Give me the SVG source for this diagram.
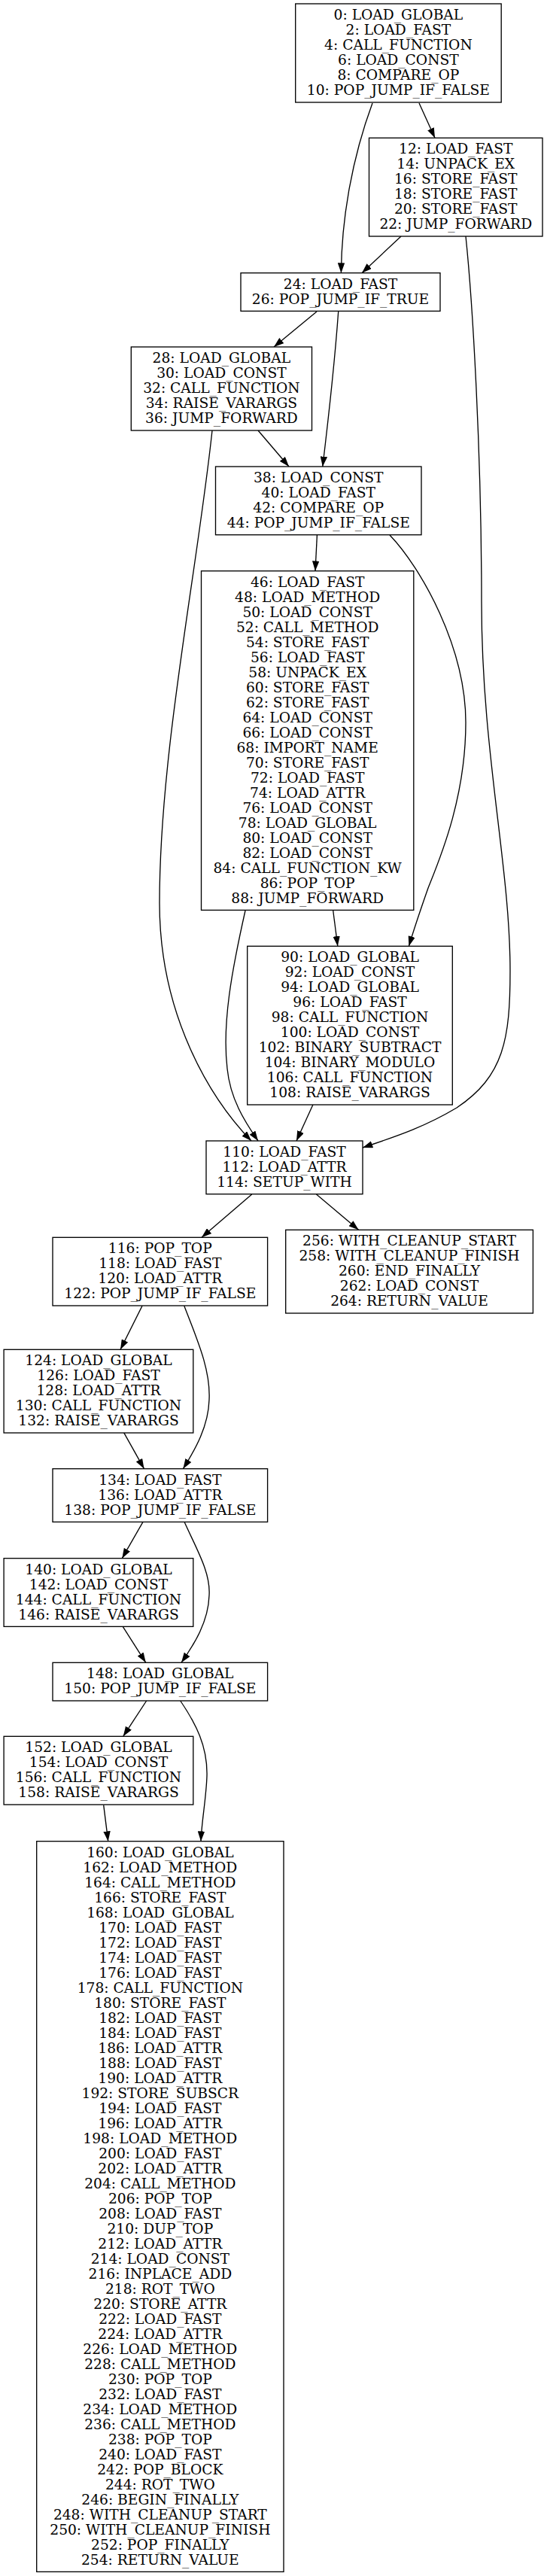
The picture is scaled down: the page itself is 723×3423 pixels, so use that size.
<svg xmlns="http://www.w3.org/2000/svg" width="723" height="3423" viewBox="0 0 723 3423">
<style>
.n rect{fill:#fff;stroke:#000;stroke-width:1.33}
.n text{font-family:"DejaVu Serif",serif;font-size:18.67px;text-anchor:middle;fill:#000}
.e path{fill:none;stroke:#000;stroke-width:1.33;marker-end:url(#ah)}
</style>
<defs>
<marker id="ah" markerUnits="userSpaceOnUse" viewBox="0 0 13.3 9.4" markerWidth="13.3" markerHeight="9.4" refX="13.3" refY="4.7" orient="auto">
<path d="M0,0 L13.3,4.7 L0,9.4 z" fill="#000"/>
</marker>
</defs>
<rect width="723" height="3423" fill="#fff"/>
<g id="edges" class="e">
<path d="M495,137 C468,210 454,290 453.4,362.7"/>
<path d="M557,137 L578,183.3"/>
<path d="M533,314 L481,362.7"/>
<path d="M619,314 C628,400 640,600 640,800 C640,1000 678,1150 678,1290 C678,1380 670,1430 607,1472 C560,1500 520,1512 482,1525"/>
<path d="M421,414 L364,461"/>
<path d="M449.7,414 C445,480 436,560 428.8,620"/>
<path d="M282,572 C262,760 212,1000 212,1200 C212,1350 280,1460 334,1516"/>
<path d="M343,572 L384,620"/>
<path d="M421.4,711 L419,758.7"/>
<path d="M518,711 C560,755 619,860 619,960 C619,1060 585,1140 569,1180 C562,1200 550,1235 543.4,1257.3"/>
<path d="M442.7,1210 L448.8,1257.3"/>
<path d="M326,1210 C308,1290 295,1360 302,1420 C306,1460 325,1490 343,1516"/>
<path d="M415.9,1468 L394,1516"/>
<path d="M334.7,1587 L268,1644.3"/>
<path d="M420.5,1587 L476.6,1634.3"/>
<path d="M189,1735.3 L160,1793.3"/>
<path d="M244.8,1735.3 C262,1780 280,1820 278,1860 C277,1895 260,1925 243.4,1951.7"/>
<path d="M164.6,1903.7 L191.5,1951.7"/>
<path d="M190,2022.3 L162.3,2070.7"/>
<path d="M245,2022.3 C262,2060 280,2090 278,2120 C277,2155 258,2185 241,2209.3"/>
<path d="M163.2,2161.3 L193.8,2209.3"/>
<path d="M194.7,2260 L163.7,2307.3"/>
<path d="M239.7,2260 C260,2290 276,2320 275,2360 C274,2390 268,2420 267,2446.7"/>
<path d="M137.7,2398.7 L143.7,2446.7"/>
</g>
<g id="n0" class="n"><rect x="392.7" y="5" width="273.5" height="131"/>
<text x="529.4" y="26"><tspan x="529.4">0: LOAD_GLOBAL</tspan><tspan x="529.4" dy="20">2: LOAD_FAST</tspan><tspan x="529.4" dy="20">4: CALL_FUNCTION</tspan><tspan x="529.4" dy="20">6: LOAD_CONST</tspan><tspan x="529.4" dy="20">8: COMPARE_OP</tspan><tspan x="529.4" dy="20">10: POP_JUMP_IF_FALSE</tspan></text></g>
<g id="n12" class="n"><rect x="490.5" y="183.3" width="230.5" height="130.7"/>
<text x="605.75" y="204.3"><tspan x="605.75">12: LOAD_FAST</tspan><tspan x="605.75" dy="20">14: UNPACK_EX</tspan><tspan x="605.75" dy="20">16: STORE_FAST</tspan><tspan x="605.75" dy="20">18: STORE_FAST</tspan><tspan x="605.75" dy="20">20: STORE_FAST</tspan><tspan x="605.75" dy="20">22: JUMP_FORWARD</tspan></text></g>
<g id="n24" class="n"><rect x="320" y="362.7" width="265" height="50.7"/>
<text x="452.5" y="383.7"><tspan x="452.5">24: LOAD_FAST</tspan><tspan x="452.5" dy="20">26: POP_JUMP_IF_TRUE</tspan></text></g>
<g id="n28" class="n"><rect x="174.3" y="461" width="240.2" height="111"/>
<text x="294.4" y="482"><tspan x="294.4">28: LOAD_GLOBAL</tspan><tspan x="294.4" dy="20">30: LOAD_CONST</tspan><tspan x="294.4" dy="20">32: CALL_FUNCTION</tspan><tspan x="294.4" dy="20">34: RAISE_VARARGS</tspan><tspan x="294.4" dy="20">36: JUMP_FORWARD</tspan></text></g>
<g id="n38" class="n"><rect x="286.5" y="620" width="273.5" height="90.7"/>
<text x="423.25" y="641"><tspan x="423.25">38: LOAD_CONST</tspan><tspan x="423.25" dy="20">40: LOAD_FAST</tspan><tspan x="423.25" dy="20">42: COMPARE_OP</tspan><tspan x="423.25" dy="20">44: POP_JUMP_IF_FALSE</tspan></text></g>
<g id="n46" class="n"><rect x="267.5" y="758.7" width="282.3" height="450.7"/>
<text x="408.65" y="779.7"><tspan x="408.65">46: LOAD_FAST</tspan><tspan x="408.65" dy="20">48: LOAD_METHOD</tspan><tspan x="408.65" dy="20">50: LOAD_CONST</tspan><tspan x="408.65" dy="20">52: CALL_METHOD</tspan><tspan x="408.65" dy="20">54: STORE_FAST</tspan><tspan x="408.65" dy="20">56: LOAD_FAST</tspan><tspan x="408.65" dy="20">58: UNPACK_EX</tspan><tspan x="408.65" dy="20">60: STORE_FAST</tspan><tspan x="408.65" dy="20">62: STORE_FAST</tspan><tspan x="408.65" dy="20">64: LOAD_CONST</tspan><tspan x="408.65" dy="20">66: LOAD_CONST</tspan><tspan x="408.65" dy="20">68: IMPORT_NAME</tspan><tspan x="408.65" dy="20">70: STORE_FAST</tspan><tspan x="408.65" dy="20">72: LOAD_FAST</tspan><tspan x="408.65" dy="20">74: LOAD_ATTR</tspan><tspan x="408.65" dy="20">76: LOAD_CONST</tspan><tspan x="408.65" dy="20">78: LOAD_GLOBAL</tspan><tspan x="408.65" dy="20">80: LOAD_CONST</tspan><tspan x="408.65" dy="20">82: LOAD_CONST</tspan><tspan x="408.65" dy="20">84: CALL_FUNCTION_KW</tspan><tspan x="408.65" dy="20">86: POP_TOP</tspan><tspan x="408.65" dy="20">88: JUMP_FORWARD</tspan></text></g>
<g id="n90" class="n"><rect x="328.7" y="1257.3" width="272.6" height="210.7"/>
<text x="465" y="1278.3"><tspan x="465">90: LOAD_GLOBAL</tspan><tspan x="465" dy="20">92: LOAD_CONST</tspan><tspan x="465" dy="20">94: LOAD_GLOBAL</tspan><tspan x="465" dy="20">96: LOAD_FAST</tspan><tspan x="465" dy="20">98: CALL_FUNCTION</tspan><tspan x="465" dy="20">100: LOAD_CONST</tspan><tspan x="465" dy="20">102: BINARY_SUBTRACT</tspan><tspan x="465" dy="20">104: BINARY_MODULO</tspan><tspan x="465" dy="20">106: CALL_FUNCTION</tspan><tspan x="465" dy="20">108: RAISE_VARARGS</tspan></text></g>
<g id="n110" class="n"><rect x="274" y="1516" width="208" height="70.7"/>
<text x="378" y="1537"><tspan x="378">110: LOAD_FAST</tspan><tspan x="378" dy="20">112: LOAD_ATTR</tspan><tspan x="378" dy="20">114: SETUP_WITH</tspan></text></g>
<g id="n116" class="n"><rect x="70" y="1644.3" width="285.6" height="90.7"/>
<text x="212.8" y="1665.3"><tspan x="212.8">116: POP_TOP</tspan><tspan x="212.8" dy="20">118: LOAD_FAST</tspan><tspan x="212.8" dy="20">120: LOAD_ATTR</tspan><tspan x="212.8" dy="20">122: POP_JUMP_IF_FALSE</tspan></text></g>
<g id="n256" class="n"><rect x="379.7" y="1634.3" width="328.7" height="110.7"/>
<text x="544" y="1655.3"><tspan x="544">256: WITH_CLEANUP_START</tspan><tspan x="544" dy="20">258: WITH_CLEANUP_FINISH</tspan><tspan x="544" dy="20">260: END_FINALLY</tspan><tspan x="544" dy="20">262: LOAD_CONST</tspan><tspan x="544" dy="20">264: RETURN_VALUE</tspan></text></g>
<g id="n124" class="n"><rect x="5.1" y="1793.3" width="251.7" height="110.7"/>
<text x="131" y="1814.3"><tspan x="131">124: LOAD_GLOBAL</tspan><tspan x="131" dy="20">126: LOAD_FAST</tspan><tspan x="131" dy="20">128: LOAD_ATTR</tspan><tspan x="131" dy="20">130: CALL_FUNCTION</tspan><tspan x="131" dy="20">132: RAISE_VARARGS</tspan></text></g>
<g id="n134" class="n"><rect x="70" y="1951.7" width="285.6" height="70.7"/>
<text x="212.8" y="1972.7"><tspan x="212.8">134: LOAD_FAST</tspan><tspan x="212.8" dy="20">136: LOAD_ATTR</tspan><tspan x="212.8" dy="20">138: POP_JUMP_IF_FALSE</tspan></text></g>
<g id="n140" class="n"><rect x="5.1" y="2070.7" width="251.7" height="90.7"/>
<text x="131" y="2091.7"><tspan x="131">140: LOAD_GLOBAL</tspan><tspan x="131" dy="20">142: LOAD_CONST</tspan><tspan x="131" dy="20">144: CALL_FUNCTION</tspan><tspan x="131" dy="20">146: RAISE_VARARGS</tspan></text></g>
<g id="n148" class="n"><rect x="70" y="2209.3" width="285.6" height="50.7"/>
<text x="212.8" y="2230.3"><tspan x="212.8">148: LOAD_GLOBAL</tspan><tspan x="212.8" dy="20">150: POP_JUMP_IF_FALSE</tspan></text></g>
<g id="n152" class="n"><rect x="5.1" y="2307.3" width="251.7" height="90.7"/>
<text x="131" y="2328.3"><tspan x="131">152: LOAD_GLOBAL</tspan><tspan x="131" dy="20">154: LOAD_CONST</tspan><tspan x="131" dy="20">156: CALL_FUNCTION</tspan><tspan x="131" dy="20">158: RAISE_VARARGS</tspan></text></g>
<g id="n160" class="n"><rect x="48.7" y="2446.7" width="328.3" height="970.7"/>
<text x="212.85" y="2467.7"><tspan x="212.85">160: LOAD_GLOBAL</tspan><tspan x="212.85" dy="20">162: LOAD_METHOD</tspan><tspan x="212.85" dy="20">164: CALL_METHOD</tspan><tspan x="212.85" dy="20">166: STORE_FAST</tspan><tspan x="212.85" dy="20">168: LOAD_GLOBAL</tspan><tspan x="212.85" dy="20">170: LOAD_FAST</tspan><tspan x="212.85" dy="20">172: LOAD_FAST</tspan><tspan x="212.85" dy="20">174: LOAD_FAST</tspan><tspan x="212.85" dy="20">176: LOAD_FAST</tspan><tspan x="212.85" dy="20">178: CALL_FUNCTION</tspan><tspan x="212.85" dy="20">180: STORE_FAST</tspan><tspan x="212.85" dy="20">182: LOAD_FAST</tspan><tspan x="212.85" dy="20">184: LOAD_FAST</tspan><tspan x="212.85" dy="20">186: LOAD_ATTR</tspan><tspan x="212.85" dy="20">188: LOAD_FAST</tspan><tspan x="212.85" dy="20">190: LOAD_ATTR</tspan><tspan x="212.85" dy="20">192: STORE_SUBSCR</tspan><tspan x="212.85" dy="20">194: LOAD_FAST</tspan><tspan x="212.85" dy="20">196: LOAD_ATTR</tspan><tspan x="212.85" dy="20">198: LOAD_METHOD</tspan><tspan x="212.85" dy="20">200: LOAD_FAST</tspan><tspan x="212.85" dy="20">202: LOAD_ATTR</tspan><tspan x="212.85" dy="20">204: CALL_METHOD</tspan><tspan x="212.85" dy="20">206: POP_TOP</tspan><tspan x="212.85" dy="20">208: LOAD_FAST</tspan><tspan x="212.85" dy="20">210: DUP_TOP</tspan><tspan x="212.85" dy="20">212: LOAD_ATTR</tspan><tspan x="212.85" dy="20">214: LOAD_CONST</tspan><tspan x="212.85" dy="20">216: INPLACE_ADD</tspan><tspan x="212.85" dy="20">218: ROT_TWO</tspan><tspan x="212.85" dy="20">220: STORE_ATTR</tspan><tspan x="212.85" dy="20">222: LOAD_FAST</tspan><tspan x="212.85" dy="20">224: LOAD_ATTR</tspan><tspan x="212.85" dy="20">226: LOAD_METHOD</tspan><tspan x="212.85" dy="20">228: CALL_METHOD</tspan><tspan x="212.85" dy="20">230: POP_TOP</tspan><tspan x="212.85" dy="20">232: LOAD_FAST</tspan><tspan x="212.85" dy="20">234: LOAD_METHOD</tspan><tspan x="212.85" dy="20">236: CALL_METHOD</tspan><tspan x="212.85" dy="20">238: POP_TOP</tspan><tspan x="212.85" dy="20">240: LOAD_FAST</tspan><tspan x="212.85" dy="20">242: POP_BLOCK</tspan><tspan x="212.85" dy="20">244: ROT_TWO</tspan><tspan x="212.85" dy="20">246: BEGIN_FINALLY</tspan><tspan x="212.85" dy="20">248: WITH_CLEANUP_START</tspan><tspan x="212.85" dy="20">250: WITH_CLEANUP_FINISH</tspan><tspan x="212.85" dy="20">252: POP_FINALLY</tspan><tspan x="212.85" dy="20">254: RETURN_VALUE</tspan></text></g>
</svg>
